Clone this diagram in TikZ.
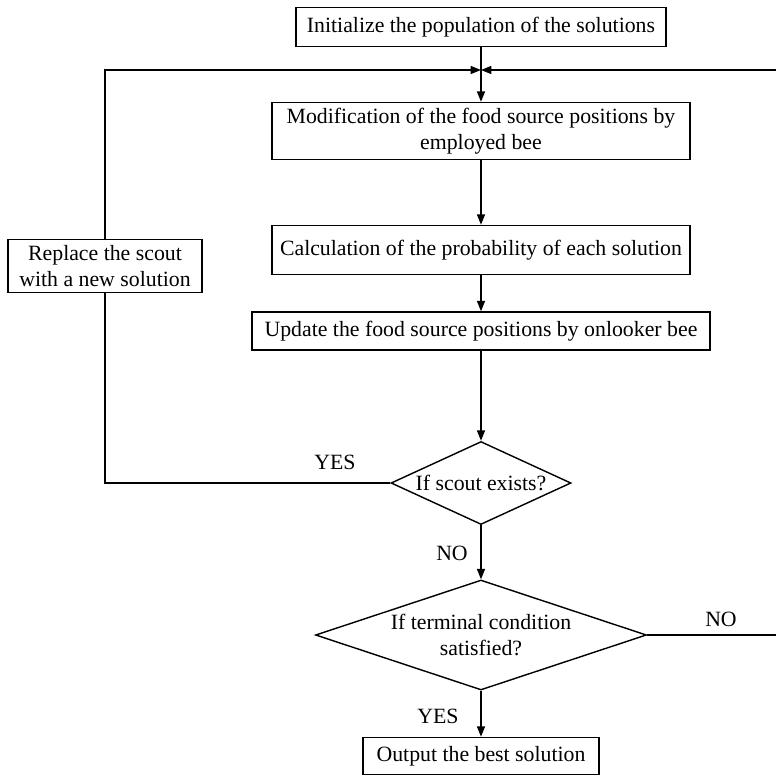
\documentclass[tikz,border=0pt]{standalone}
\usepackage{fontspec}
\setmainfont{Liberation Serif}
\usepackage{tikz}
\usetikzlibrary{shapes.geometric,arrows.meta}

\begin{document}
\begin{tikzpicture}[x=0.025cm, y=-0.025cm,
        every node/.style={font=\fontsize{15.5}{18.5}\selectfont},
        box/.style={draw, line width=1pt, inner sep=0pt, align=center},
        decision/.style={draw, diamond, line width=1pt, inner sep=0pt, align=center},
        flow/.style={line width=1pt, -{Triangle[length=2.6mm, width=2mm]}}]
        \useasboundingbox (0, 0) rectangle (776, 779);

        \node[box, minimum width=370*0.025cm, minimum height=39*0.025cm] (init) at (481, 27) {Initialize the population of the solutions};
        \node[box, minimum width=418*0.025cm, minimum height=57*0.025cm] (modify) at (481, 131) {Modification of the food source positions by\\employed bee};
        \node[box, minimum width=418*0.025cm, minimum height=49*0.025cm] (prob) at (481, 250) {Calculation of the probability of each solution};
        \node[box, minimum width=458*0.025cm, minimum height=38*0.025cm] (onlook) at (481, 331) {Update the food source positions by onlooker bee};
        \node[box, minimum width=194*0.025cm, minimum height=53*0.025cm] (replace) at (105, 266) {Replace the scout\\with a new solution};
        \node[decision, aspect=2.17, minimum width=180*0.025cm, minimum height=83*0.025cm] (scout) at (481, 483) {If scout exists?};
        \node[decision, aspect=3, minimum width=331*0.025cm, minimum height=110*0.025cm] (term) at (481, 635) {If terminal condition\\satisfied?};
        \node[box, minimum width=236*0.025cm, minimum height=37*0.025cm] (best) at (481, 756) {Output the best solution};

        \coordinate (merge) at (481, 70);
        \coordinate (back) at (779, 635);

        \draw[line width=1pt] (init) -- (merge);
        \draw[flow] (merge) -- (modify);
        \draw[flow] (modify) -- (prob);
        \draw[flow] (prob) -- (onlook);
        \draw[flow] (onlook) -- (scout);
        \draw[flow] (scout) -- (term);
        \draw[flow] (term) -- (best);
        \draw[line width=1pt] (scout.west) -| (replace.south);
        \draw[flow] (replace.north) |- (merge);
        \draw[flow] (term.east) -- (back) |- (merge);

        \node (yes1) at (335, 462) {YES};
        \node (no1) at (452, 553) {NO};
        \node (no2) at (721, 619) {NO};
        \node (yes2) at (438, 716) {YES};
    \end{tikzpicture}
\end{document}
